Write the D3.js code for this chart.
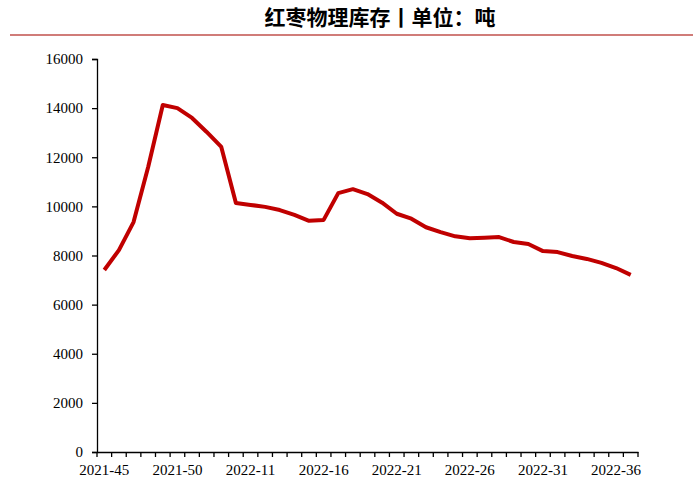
<!DOCTYPE html>
<html><head><meta charset="utf-8">
<script src="https://d3js.org/d3.v7.min.js"></script>
<style>body{margin:0;background:#fff}</style>
</head><body>
<svg id="c" width="700" height="493"></svg>
<script>
const categories = ["2021-45","2021-46","2021-47","2021-48","2021-49","2021-50","2021-51","2021-52","2022-09","2022-10"];
for (let w = 11; w <= 37; w++) categories.push("2022-" + w);
const values = [7410,8220,9360,11600,14130,14000,13600,13030,12420,10140,10060,9980,9850,9650,9410,9450,10540,10700,10500,10150,9700,9500,9150,8950,8780,8700,8720,8750,8550,8470,8180,8140,7980,7860,7700,7490,7210];
const yTicks = [0,2000,4000,6000,8000,10000,12000,14000,16000];
const tickLabelIdx = [0,5,10,15,20,25,30,35];
const title = "红枣物理库存丨单位：吨";

const svg = d3.select("#c");
const m = {l:97, r:62, t:59, b:41};
const W = 700, H = 493;
const x = d3.scaleBand().domain(categories).range([m.l, W - m.r]).paddingInner(0);
const y = d3.scaleLinear().domain([0,16000]).range([H - m.b, m.t]);

svg.append("text").attr("x", 380).attr("y", 25).attr("text-anchor","middle")
  .attr("font-family","Noto Sans CJK SC").attr("font-weight","bold").attr("font-size",21).text(title);
svg.append("line").attr("x1",10).attr("x2",693).attr("y1",35).attr("y2",35)
  .attr("stroke","#c0504d").attr("stroke-width",1.5);

const ya = svg.append("g").attr("transform",`translate(${m.l},0)`)
  .call(d3.axisLeft(y).tickValues(yTicks).tickSize(5).tickPadding(9).tickFormat(d3.format("d")));
ya.selectAll("text").attr("font-family","Liberation Serif").attr("font-size",15).attr("fill","#000");
ya.selectAll("line,path").attr("stroke","#000").attr("stroke-width",1.3);

const xa = svg.append("g").attr("transform",`translate(0,${H - m.b})`)
  .call(d3.axisBottom(x).tickSize(0).tickPadding(12).tickFormat((d,i)=> tickLabelIdx.includes(i) ? d : ""));
xa.selectAll("text").attr("font-family","Liberation Serif").attr("font-size",15).attr("fill","#000");
xa.select("path").attr("stroke","#000").attr("stroke-width",1.3);
xa.selectAll(".bt").data(categories.concat([null])).enter().append("line")
  .attr("x1",(d,i)=> m.l + i*x.bandwidth()).attr("x2",(d,i)=> m.l + i*x.bandwidth())
  .attr("y1",0).attr("y2",5).attr("stroke","#000").attr("stroke-width",1.3);

svg.append("path").datum(values)
  .attr("fill","none").attr("stroke","#C00000").attr("stroke-width",4).attr("stroke-linejoin","round")
  .attr("d", d3.line().x((d,i)=> x(categories[i]) + x.bandwidth()/2).y(d=> y(d)));
</script>
</body></html>
